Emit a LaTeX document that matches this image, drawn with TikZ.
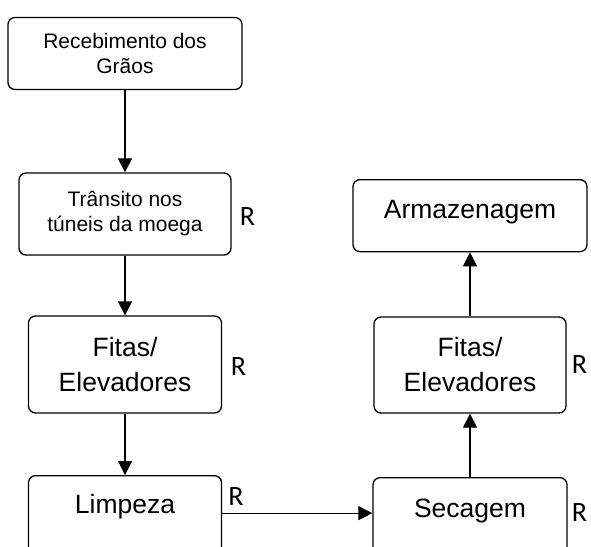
\documentclass[tikz,border=0pt]{standalone}
\usepackage{fontspec}
\setmainfont{Liberation Sans}
\newfontfamily\fonteR{Carlito}
\usetikzlibrary{arrows.meta,positioning}
\tikzset{>={Triangle[length=14pt,width=14pt]},auto}
\tikzset{etapa/.style={draw,rounded corners=7pt,line width=1.3pt,align=center,inner sep=0pt}}
\tikzset{pequeno/.style={font=\fontsize{21}{25}\selectfont}}
\tikzset{grande/.style={font=\fontsize{26.5}{35}\selectfont}}
\tikzset{risco/.style={font=\fonteR\fontsize{28}{30}\selectfont,inner sep=0pt}}

\begin{document}
\begin{tikzpicture}[x=1pt,y=1pt]
    \clip (0,0) rectangle (591,-546);

    % coluna da esquerda
    \node[etapa,pequeno,minimum width=234pt,minimum height=72pt] (rec) at (125,-53.5) {Recebimento dos\\Grãos};
    \node[etapa,pequeno,minimum width=212pt,minimum height=82pt] (tra) at (125,-214) {Trânsito nos\\túneis da moega};
    \node[etapa,grande,minimum width=193pt,minimum height=97pt] (fitA) at (125,-364.5) {Fitas/\\Elevadores};
    \node[etapa,grande,anchor=north,minimum width=193pt,text height=37.5pt,text depth=80pt] (limp) at (125,-475) {Limpeza};

    % coluna da direita
    \node[etapa,grande,anchor=north,minimum width=194pt,text height=39.5pt,text depth=80pt] (sec) at (470,-477) {Secagem};
    \node[etapa,grande,minimum width=192pt,minimum height=96pt] (fitB) at (470,-365) {Fitas/\\Elevadores};
    \node[etapa,grande,anchor=north,minimum width=234pt,text height=38.5pt,text depth=33.5pt] (arm) at (470,-179) {Armazenagem};

    % riscos
    \node[risco] (rTra) at (247.5,-217) {R};
    \node[risco] (rFitA) at (238.5,-367) {R};
    \node[risco] (rLimp) at (236,-497) {R};
    \node[risco] (rFitB) at (579.5,-365) {R};
    \node[risco] (rSec) at (579.5,-513) {R};

    \path[->,line width=1.2pt]
        (rec) edge (tra)
        (tra) edge (fitA)
        (fitA) edge (limp)
        (limp.base east) edge (limp.base east -| sec.west)
        (sec) edge (fitB)
        (fitB) edge (arm)
        ;
\end{tikzpicture}
\end{document}
